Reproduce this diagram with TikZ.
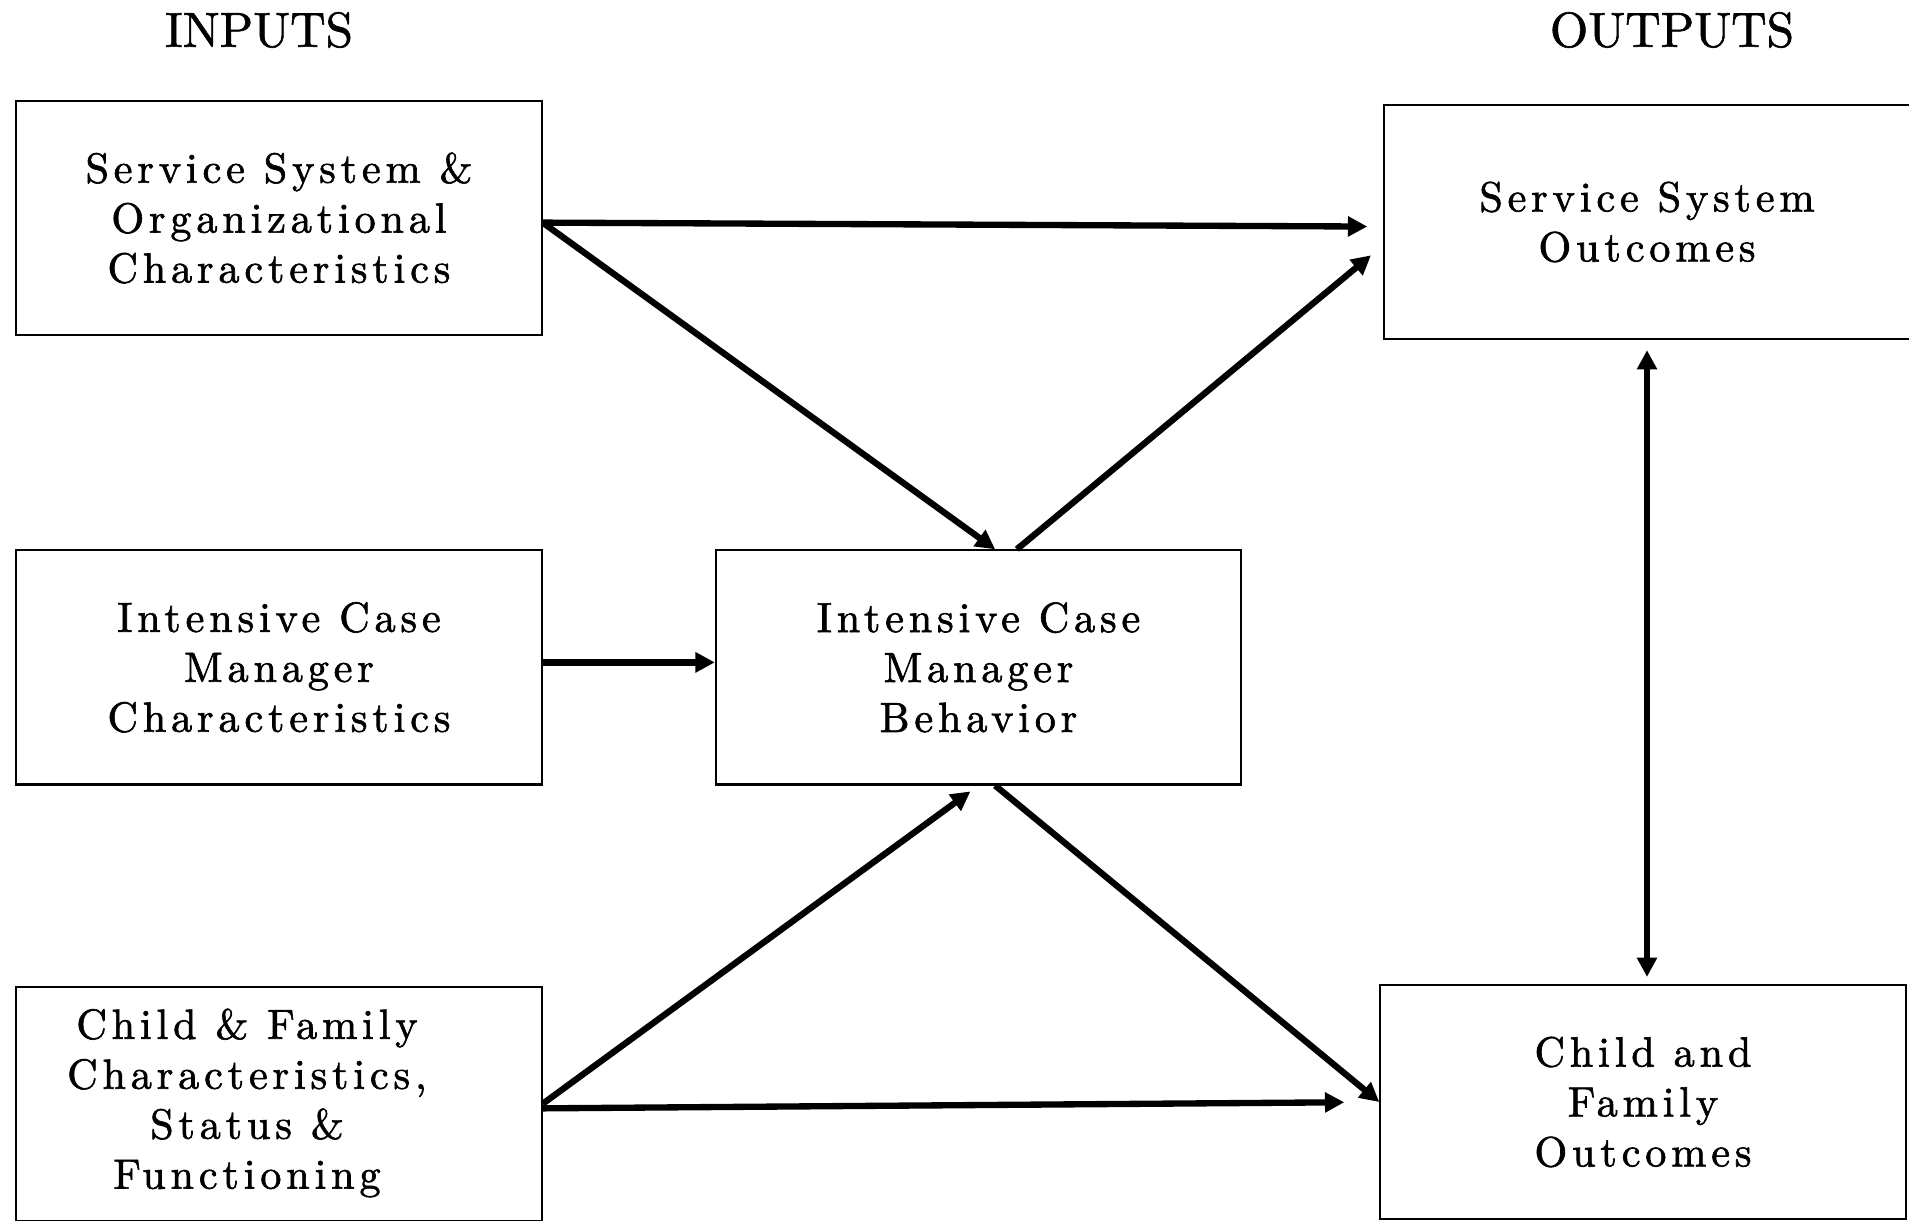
\documentclass[tikz,border=0pt]{standalone}
\usepackage{fontspec}
\newfontfamily\boxfont{lmroman10-regular.otf}[LetterSpace=11.5, FakeBold=1.5]
\newfontfamily\headfont{lmroman10-regular.otf}[FakeBold=1.2]
\usetikzlibrary{arrows.meta, positioning}
\tikzset{%
  box/.style={draw, line width=0.6pt, minimum width=5.25cm, minimum height=2.34cm, inner sep=0mm, align=center,
    font=\boxfont\fontsize{12}{14.2}\selectfont},
  heading/.style={font=\headfont\fontsize{14}{17}\selectfont},
  link/.style={line width=1.8pt, -{Triangle[length=5.5pt,width=5.5pt]}},
  both/.style={line width=1.8pt, {Triangle[length=5.5pt,width=5.5pt]}-{Triangle[length=5.5pt,width=5.5pt]}}
}
\begin{document}
\begin{tikzpicture}[x=0.01cm, y=-0.01cm]
  \useasboundingbox (0,0) rectangle (1909,1220);

  \node[heading] (inputs) at (259,30) {INPUTS};
  \node[heading] (outputs) at (1672,30) {OUTPUTS};

  \node[box] (ssoc) at (279,218) {Service System \&\\Organizational\\Characteristics};
  \node[box,below=2.13cm of ssoc] (icmc) {Intensive Case\\Manager\\Characteristics};
  \node[box,below=2cm of icmc] (cffc) {\begin{tabular}{@{}c@{\hspace{0.64cm}}}Child \& Family\\Characteristics,\\Status \&\\Functioning\end{tabular}};
  \node[box,right=1.72cm of icmc] (icmb) {Intensive Case\\Manager\\Behavior};

  \node[box] (sso) at (1647,222) {Service System\\Outcomes};
  \node[box] (cfo) at (1643,1102) {Child and\\Family\\Outcomes};

  \draw[link, shorten >=0.16cm] (ssoc.-1.5) -- (sso.181);
  \draw[link] (ssoc.-1.5) -- (icmb.82);
  \draw[link, shorten >=0.16cm] (icmb.72) -- (sso.185);
  \draw[link] ([yshift=0.05cm]icmc.east) -- ([yshift=0.05cm]icmb.west);
  \draw[link, shorten >=0.1cm] (cffc.east) -- (icmb.south);
  \draw[link, shorten >=0.35cm] (cffc.-1) -- (cfo.west);
  \draw[link] (icmb.-82) -- (cfo.west);
  \draw[both, shorten <=0.1cm, shorten >=0.07cm] (sso.south) -- (sso.south |- cfo.north);
\end{tikzpicture}
\end{document}
